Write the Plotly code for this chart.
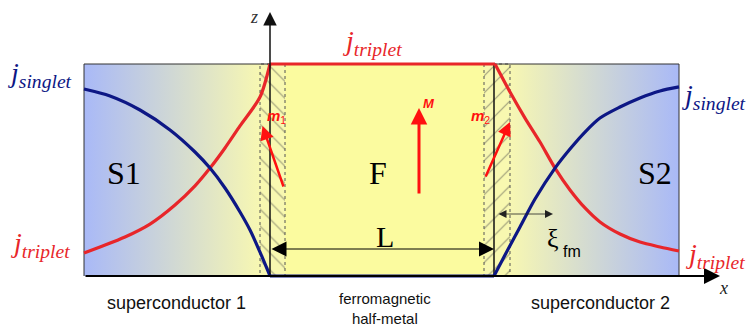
import plotly.graph_objects as go

# ---------------- data (position along x, normalised current amplitude) -------------
x_trip_left = [84, 100, 125, 150, 175, 195, 210, 225, 240, 260, 270]
y_trip_left = [0.108, 0.137, 0.184, 0.245, 0.335, 0.425, 0.509, 0.604, 0.708, 0.844, 1.0]

x_sing_left = [84, 110, 140, 170, 195, 210, 225, 240, 250, 260, 270]
y_sing_left = [0.882, 0.849, 0.783, 0.689, 0.585, 0.509, 0.415, 0.302, 0.217, 0.113, 0.0]

x_trip_mid = [270, 495]
y_trip_mid = [1.0, 1.0]
x_sing_mid = [270, 494]
y_sing_mid = [0.0, 0.0]

x_trip_right = [495, 510, 525, 540, 555, 570, 585, 600, 620, 640, 660, 679]
y_trip_right = [1.0, 0.868, 0.745, 0.632, 0.509, 0.406, 0.321, 0.255, 0.198, 0.160, 0.137, 0.118]

x_sing_right = [494, 505, 520, 535, 555, 570, 585, 600, 620, 640, 660, 679]
y_sing_right = [0.0, 0.099, 0.231, 0.363, 0.509, 0.599, 0.679, 0.745, 0.797, 0.840, 0.873, 0.892]

# region boundaries along x
box_left, box_right = 84, 679
hatch1 = [260, 285]
hatch2 = [484, 510]
iface1, iface2 = 270, 494

RED = "#e8262a"
BLUE = "#0d1785"
BLUE_BG = "#a9b9f7"
YEL_BG = "#f7f7b2"
YEL_F = "#fbfb9f"

# helper: convert a vertical pixel position of a label into data units
def yv(py):
    return (276 - py) / 212.0

fig = go.Figure()

def rect(x0, x1):
    return [x0, x1, x1, x0, x0], [0, 0, 1, 1, 0]

# left superconductor gradient
xs, ys = rect(box_left, hatch1[0])
fig.add_trace(go.Scatter(x=xs, y=ys, mode="lines", fill="toself", line=dict(width=0),
                         fillgradient=dict(type="horizontal",
                                           colorscale=[[0, BLUE_BG], [1, YEL_BG]],
                                           start=box_left, stop=hatch1[0]),
                         hoverinfo="skip", showlegend=False))
# right superconductor gradient
xs, ys = rect(hatch2[1], box_right)
fig.add_trace(go.Scatter(x=xs, y=ys, mode="lines", fill="toself", line=dict(width=0),
                         fillgradient=dict(type="horizontal",
                                           colorscale=[[0, YEL_BG], [1, BLUE_BG]],
                                           start=hatch2[1], stop=box_right),
                         hoverinfo="skip", showlegend=False))
# ferromagnet
xs, ys = rect(hatch1[1], hatch2[0])
fig.add_trace(go.Scatter(x=xs, y=ys, mode="lines", fill="toself", line=dict(width=0),
                         fillcolor=YEL_F, hoverinfo="skip", showlegend=False))
# hatched interface layers
for (h, shp) in [(hatch1, "\\"), (hatch2, "/")]:
    xs, ys = rect(h[0], h[1])
    fig.add_trace(go.Scatter(x=xs, y=ys, mode="lines", fill="toself",
                             line=dict(width=1, color="#555555", dash="dot"),
                             fillcolor=YEL_BG,
                             fillpattern=dict(shape=shp, fgcolor="#444444", bgcolor="#f8f8b0",
                                              size=12, solidity=0.1),
                             hoverinfo="skip", showlegend=False))

# interface solid line
fig.add_trace(go.Scatter(x=[iface2, iface2], y=[0, 1], mode="lines",
                         line=dict(color="#111111", width=1.5), hoverinfo="skip", showlegend=False))

# box outline (top, left, right)
fig.add_trace(go.Scatter(x=[box_left, box_left, box_right, box_right], y=[0, 1, 1, 0], mode="lines",
                         line=dict(color="#333333", width=1), hoverinfo="skip", showlegend=False))

# curves
for xx, yy, c in [(x_trip_left, y_trip_left, RED), (x_trip_mid, y_trip_mid, RED),
                  (x_trip_right, y_trip_right, RED),
                  (x_sing_left, y_sing_left, BLUE), (x_sing_mid, y_sing_mid, BLUE),
                  (x_sing_right, y_sing_right, BLUE)]:
    fig.add_trace(go.Scatter(x=xx, y=yy, mode="lines",
                             line=dict(color=c, width=3.2, shape="spline", smoothing=0.8),
                             hoverinfo="skip", showlegend=False))

ann = []

def arrow(x, y, ax, ay, color, width, size, head=2, side="end"):
    ann.append(dict(x=x, y=y, ax=ax, ay=ay, xref="x", yref="y", axref="x", ayref="y",
                    text="", showarrow=True, arrowcolor=color, arrowwidth=width,
                    arrowsize=size, arrowhead=head, startarrowhead=head, arrowside=side,
                    standoff=0, startstandoff=0))

# axes arrows
arrow(720, 0, box_left, 0, "#000000", 2, 1.6)
arrow(iface1, yv(12), iface1, 0, "#111111", 1.5, 1.8)
# L arrow
arrow(iface2, yv(249), iface1, yv(249), "#000000", 1, 3, side="end+start")
# xi arrow
arrow(553, yv(214), 497, yv(214), "#222222", 0.8, 2, side="end+start")
# magnetisation arrows
arrow(419, yv(108), 419, yv(195), "#ff1010", 3, 1.1)
arrow(262.5, yv(126), 284, yv(188), "#ff1010", 2.5, 1.1)
arrow(510, yv(122), 485, yv(178), "#ff1010", 2.5, 1.1)

SERIF = "Liberation Serif"
SANS = "Liberation Sans"

def txt(x, py, s, size, color="#000000", family=SERIF, xanchor="center"):
    ann.append(dict(x=x, y=yv(py), xref="x", yref="y", text=s, showarrow=False,
                    font=dict(size=size, color=color, family=family), xanchor=xanchor, yanchor="middle"))

txt(40, 74, "<i>j</i><sub><i>singlet</i></sub>", 28, BLUE)
txt(714, 96, "<i>j</i><sub><i>singlet</i></sub>", 28, BLUE)
txt(372, 42, "<i>j</i><sub><i>triplet</i></sub>", 28, RED)
txt(40, 244, "<i>j</i><sub><i>triplet</i></sub>", 28, RED)
txt(715, 255, "<i>j</i><sub><i>triplet</i></sub>", 28, RED)

txt(124, 173, "S1", 32)
txt(378, 173, "F", 32)
txt(655, 173, "S2", 32)
txt(385, 236, "L", 30)
txt(553, 238, "ξ", 26)
txt(572, 251, "fm", 16, family=SANS)

txt(176, 303, "superconductor 1", 18, "#111111", SANS)
txt(600, 303, "superconductor 2", 18, "#111111", SANS)
txt(385, 308, "ferromagnetic<br>half-metal", 15, "#111111", SANS)

txt(254, 17, "<i>z</i>", 18, "#333333")
txt(723, 288, "<i>x</i>", 18, "#222222")

txt(276, 116, "<b><i>m</i></b><sub>1</sub>", 15, "#ff1010", SANS)
txt(480, 116, "<b><i>m</i></b><sub>2</sub>", 15, "#ff1010", SANS)
txt(429, 103, "<b><i>M</i></b>", 13, "#ff1010", SANS)

fig.update_layout(
    width=751, height=327, autosize=False,
    margin=dict(l=0, r=0, t=0, b=0),
    paper_bgcolor="white", plot_bgcolor="white",
    xaxis=dict(range=[0, 751], visible=False, fixedrange=True),
    yaxis=dict(range=[yv(327), yv(0)], visible=False, fixedrange=True),
    annotations=ann,
    showlegend=False,
)

fig.write_html("out.html")
